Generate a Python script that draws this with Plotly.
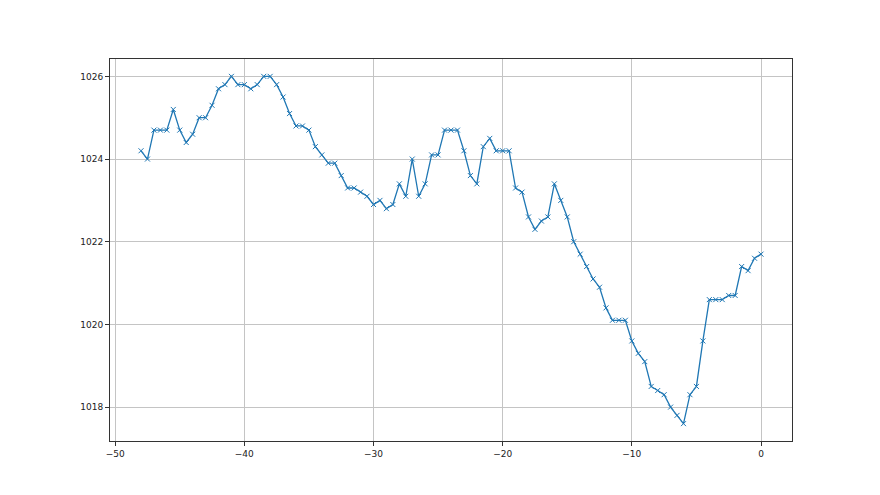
import plotly.graph_objects as go

# hours relative to now, and pressure readings (hPa)
hours = [
    -48, -47.5, -47, -46.5, -46, -45.5, -45, -44.5, -44, -43.5,
    -43, -42.5, -42, -41.5, -41, -40.5, -40, -39.5, -39, -38.5,
    -38, -37.5, -37, -36.5, -36, -35.5, -35, -34.5, -34, -33.5,
    -33, -32.5, -32, -31.5, -31, -30.5, -30, -29.5, -29, -28.5,
    -28, -27.5, -27, -26.5, -26, -25.5, -25, -24.5, -24, -23.5,
    -23, -22.5, -22, -21.5, -21, -20.5, -20, -19.5, -19, -18.5,
    -18, -17.5, -17, -16.5, -16, -15.5, -15, -14.5, -14, -13.5,
    -13, -12.5, -12, -11.5, -11, -10.5, -10, -9.5, -9, -8.5,
    -8, -7.5, -7, -6.5, -6, -5.5, -5, -4.5, -4, -3.5,
    -3, -2.5, -2, -1.5, -1, -0.5, 0,
]
pressure = [
    1024.2, 1024.0, 1024.7, 1024.7, 1024.7, 1025.2, 1024.7, 1024.4, 1024.6, 1025.0,
    1025.0, 1025.3, 1025.7, 1025.8, 1026.0, 1025.8, 1025.8, 1025.7, 1025.8, 1026.0,
    1026.0, 1025.8, 1025.5, 1025.1, 1024.8, 1024.8, 1024.7, 1024.3, 1024.1, 1023.9,
    1023.9, 1023.6, 1023.3, 1023.3, 1023.2, 1023.1, 1022.9, 1023.0, 1022.8, 1022.9,
    1023.4, 1023.1, 1024.0, 1023.1, 1023.4, 1024.1, 1024.1, 1024.7, 1024.7, 1024.7,
    1024.2, 1023.6, 1023.4, 1024.3, 1024.5, 1024.2, 1024.2, 1024.2, 1023.3, 1023.2,
    1022.6, 1022.3, 1022.5, 1022.6, 1023.4, 1023.0, 1022.6, 1022.0, 1021.7, 1021.4,
    1021.1, 1020.9, 1020.4, 1020.1, 1020.1, 1020.1, 1019.6, 1019.3, 1019.1, 1018.5,
    1018.4, 1018.3, 1018.0, 1017.8, 1017.6, 1018.3, 1018.5, 1019.6, 1020.6, 1020.6,
    1020.6, 1020.7, 1020.7, 1021.4, 1021.3, 1021.6, 1021.7,
]

fig = go.Figure()
fig.add_trace(
    go.Scatter(
        x=hours,
        y=pressure,
        mode="lines+markers",
        line=dict(color="#1f77b4", width=1.3),
        marker=dict(symbol="x-thin", size=5, line=dict(color="#1f77b4", width=1)),
        showlegend=False,
    )
)

axis_style = dict(
    showline=True,
    linecolor="#333333",
    linewidth=1,
    mirror=True,
    ticks="outside",
    ticklen=4,
    tickcolor="#333333",
    showgrid=True,
    gridcolor="#c4c4c4",
    gridwidth=1,
    zeroline=False,
    tickfont=dict(family="DejaVu Sans", size=9, color="#222222"),
)

pad_x = (max(hours) - min(hours)) * 0.05
pad_y = (max(pressure) - min(pressure)) * 0.05

fig.update_xaxes(**axis_style, range=[min(hours) - pad_x, max(hours) + pad_x], dtick=10, tick0=0)
fig.update_yaxes(**axis_style, range=[min(pressure) - pad_y, max(pressure) + pad_y], dtick=2, tick0=0)

# page body adds an 8px offset, so the figure is a bit smaller than the window
fig.update_layout(
    width=872,
    height=487,
    margin=dict(l=102, r=88, t=51, b=54),
    plot_bgcolor="#ffffff",
    paper_bgcolor="#ffffff",
)

fig.write_html("out.html")
